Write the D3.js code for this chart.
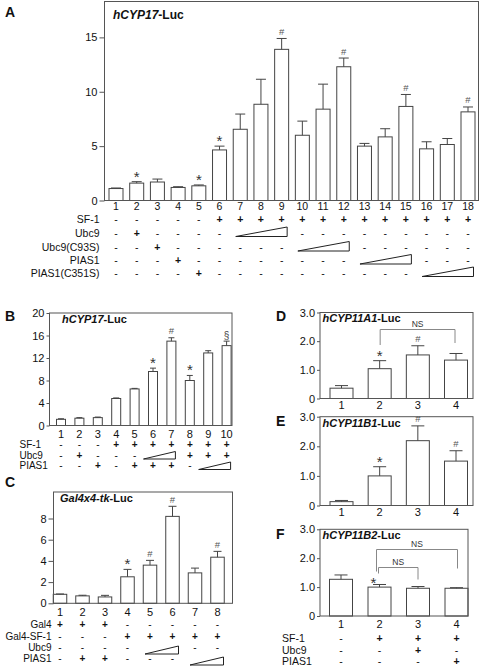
<!DOCTYPE html>
<html><head><meta charset="utf-8">
<script src="https://cdn.jsdelivr.net/npm/d3@7"></script>
<style>body{margin:0;background:#fff}</style>
</head><body><svg id="c" width="481" height="672"></svg>
<script>
// ---------- Panel A: hCYP17-Luc ----------
const aCats  = ["1","2","3","4","5","6","7","8","9","10","11","12","13","14","15","16","17","18"];
const aMeans = [1.1,1.6,1.7,1.2,1.35,4.65,6.55,8.85,13.9,6.0,8.4,12.3,5.0,5.85,8.65,4.75,5.15,8.15];
const aErrs  = [0.05,0.13,0.27,0.07,0.08,0.35,1.4,2.3,1.0,1.3,2.3,0.8,0.25,0.75,1.1,0.65,0.55,0.45];
const aMarks = ["","*","","","*","*","","","#","","","#","","","#","","","#"];
const aTicks = [0,5,10,15];
const aRowLabels = ["SF-1","Ubc9","Ubc9(C93S)","PIAS1","PIAS1(C351S)"];
const aRowSigns = [
  "- - - - - + + + + + + + + + + + + +",
  "- + - - - - w w w - - - - - - - - -",
  "- - + - - - - - - w w w - - - - - -",
  "- - - + - - - - - - - - w w w - - -",
  "- - - - + - - - - - - - - - - w w w"
];
// ---------- Panel B: hCYP17-Luc ----------
const bCats  = ["1","2","3","4","5","6","7","8","9","10"];
const bMeans = [1.1,1.3,1.4,4.8,6.5,9.6,15.0,8.0,12.9,14.2];
const bErrs  = [0.1,0.1,0.1,0.1,0.1,0.6,0.6,0.9,0.4,0.8];
const bMarks = ["","","","","","*","#","*","","§"];
const bTicks = [0,4,8,12,16,20];
const bRowLabels = ["SF-1","Ubc9","PIAS1"];
const bRowSigns = [
  "- - - + + + + + + +",
  "- + - - - w w + + +",
  "- - + - + + + - w w"
];
// ---------- Panel C: Gal4x4-tk-Luc ----------
const cCats  = ["1","2","3","4","5","6","7","8"];
const cMeans = [0.85,0.7,0.6,2.5,3.6,8.2,2.87,4.35];
const cErrs  = [0.03,0.06,0.15,0.7,0.45,0.95,0.45,0.55];
const cMarks = ["","","","*","#","#","","#"];
const cTicks = [0,2,4,6,8];
const cRowLabels = ["Gal4","Gal4-SF-1","Ubc9","PIAS1"];
const cRowSigns = [
  "+ + + - - - - -",
  "- - - + + + + +",
  "- - - - w w - -",
  "- + + - - - w w"
];
// ---------- Panels D, E, F ----------
const dCats  = ["1","2","3","4"];
const dMeans = [0.36,1.04,1.52,1.34];
const dErrs  = [0.09,0.28,0.32,0.23];
const dMarks = ["","*","#",""];
const dPairs = [["2","4","NS"]];
const eMeans = [0.13,1.0,2.19,1.5];
const eErrs  = [0.04,0.31,0.5,0.35];
const eMarks = ["","*","#","#"];
const fMeans = [1.27,1.0,0.96,0.96];
const fErrs  = [0.15,0.09,0.06,0.02];
const fMarks = ["","*","",""];
const fPairs = [["2","4","NS"],["2","3","NS"]];
const defTicks = [0,1,2,3];
const fRowLabels = ["SF-1","Ubc9","PIAS1"];
const fRowSigns = [
  "- + + +",
  "- - + -",
  "- - - +"
];

const FONT = '"Liberation Sans", Arial, Helvetica, sans-serif';
const svg = d3.select("#c").attr("font-family", FONT);

function drawPanel(c) {
  const g = svg.append("g");
  const x = d3.scalePoint().domain(c.cats).range([c.xFirst, c.xLast]);
  const y = d3.scaleLinear().domain([0, c.yMax]).range([c.y0, c.yTop]);

  // bars
  g.selectAll("rect.bar").data(c.means).join("rect").attr("class","bar")
    .attr("x", (d,i) => x(c.cats[i]) - c.barW/2)
    .attr("y", d => y(d))
    .attr("width", c.barW)
    .attr("height", d => c.y0 - y(d))
    .attr("fill", "#fff").attr("stroke", "#444").attr("stroke-width", 1);
  // error bars (upper only)
  const eg = g.append("g").attr("stroke", "#444").attr("stroke-width", 1);
  c.means.forEach((m, i) => {
    const cx = x(c.cats[i]);
    eg.append("line").attr("x1", cx).attr("x2", cx).attr("y1", y(m)).attr("y2", y(m + c.errs[i]));
    eg.append("line").attr("x1", cx - c.capW/2).attr("x2", cx + c.capW/2)
      .attr("y1", y(m + c.errs[i])).attr("y2", y(m + c.errs[i]));
  });
  // frame
  g.append("rect").attr("x", c.left).attr("y", y(c.yMax))
    .attr("width", c.right - c.left).attr("height", c.y0 - y(c.yMax))
    .attr("fill", "none").attr("stroke", "#555").attr("stroke-width", 1);
  // y axis
  const ya = d3.axisLeft(y).tickValues(c.yTicks).tickSize(c.tick).tickPadding(2)
    .tickFormat(c.fmt || (d => d));
  const ga = g.append("g").attr("transform", `translate(${c.left},0)`).call(ya);
  ga.select(".domain").remove();
  ga.attr("font-family", FONT).attr("font-size", c.tickFont);
  ga.selectAll("line").attr("stroke", "#555");
  ga.selectAll("text").attr("fill", "#111");
  // category numbers
  g.selectAll("text.num").data(c.cats).join("text").attr("class","num")
    .attr("x", d => x(d)).attr("y", c.numY).attr("dy", "0.35em")
    .attr("text-anchor", "middle").attr("font-size", c.font).attr("fill", "#111").text(d => d);
  // significance marks
  c.marks.forEach((mk, i) => {
    if (!mk) return;
    const top = y(c.means[i] + c.errs[i]);
    const t = g.append("text").attr("text-anchor", "middle").attr("x", x(c.cats[i]) + (c.markDx || 0)).text(mk);
    if (mk === "*") t.attr("y", top + (c.starDy || 0)).attr("font-size", 15).attr("fill", "#333");
    else if (mk === "#") t.attr("y", top - 3.5).attr("font-size", 9.5).attr("fill", "#555");
    else t.attr("y", top - 2).attr("font-size", 10).attr("fill", "#444");
  });
  // title
  const tt = g.append("text").attr("x", c.titleX).attr("y", c.titleY).attr("dy", "0.35em")
    .attr("font-size", c.titleFont).attr("font-weight", "bold").attr("fill", "#111");
  tt.append("tspan").attr("font-style", "italic").text(c.titleIt);
  tt.append("tspan").text(c.titleRest);
  // panel letter
  g.append("text").attr("x", c.letterX).attr("y", c.letterY).attr("font-size", 14)
    .attr("font-weight", "bold").attr("fill", "#111").text(c.letter);
  // brackets
  (c.pairs || []).forEach((p, k) => {
    const b = c.brackets[k];
    const x1 = x(p[0]) + b.dx1, x2 = x(p[1]) + b.dx2;
    g.append("path").attr("d", `M${x1},${b.l}V${b.y}H${x2}V${b.r}`)
      .attr("fill", "none").attr("stroke", "#888").attr("stroke-width", 1);
    g.append("text").attr("x", (x1 + x2)/2).attr("y", b.y - 2.5).attr("text-anchor", "middle")
      .attr("font-size", 8.5).attr("fill", "#333").text(p[2]);
  });
  // treatment table
  if (c.rowLabels) {
    c.rowLabels.forEach((lab, r) => {
      const ry = c.rowY[r];
      g.append("text").attr("x", c.rowLabelX).attr("y", ry).attr("dy", "0.35em")
        .attr("text-anchor", c.rowAnchor).attr("font-size", c.rowFont).attr("fill", "#111").text(lab);
      const signs = c.rowSigns[r].split(" ");
      let wStart = -1;
      signs.forEach((s, i) => {
        if (s === "w") {
          if (wStart < 0) wStart = i;
          if (i === signs.length - 1 || signs[i+1] !== "w") {
            const x0 = x(c.cats[wStart]) - c.wedge.l, x1 = x(c.cats[i]) + c.wedge.r;
            g.append("path").attr("d", `M${x0},${ry + c.wedge.b}H${x1}V${ry + c.wedge.t}Z`)
              .attr("fill", "#fff").attr("stroke", "#222").attr("stroke-width", 1);
            wStart = -1;
          }
          return;
        }
        g.append("text").attr("x", x(c.cats[i])).attr("y", ry).attr("dy", "0.35em")
          .attr("text-anchor", "middle").attr("font-size", c.rowFont)
          .attr("font-weight", s === "+" ? "bold" : "normal").attr("fill", "#111").text(s);
      });
    });
  }
}

const fmt1 = d => d === 0 ? "0" : d3.format(".1f")(d);

drawPanel({cats: aCats, means: aMeans, errs: aErrs, marks: aMarks, yTicks: aTicks,
  left: 104.5, right: 478.5, y0: 200.5, yTop: 1.5, yMax: 18.3, xFirst: 116, xLast: 468,
  barW: 14, capW: 10, tick: 5, tickFont: 11, font: 10.5, rowFont: 10.5, numY: 206.5,
  titleX: 113, titleY: 15, titleFont: 12, titleIt: "hCYP17", titleRest: "-Luc",
  letter: "A", letterX: 5, letterY: 17,
  rowLabels: aRowLabels, rowSigns: aRowSigns, rowY: [219, 233, 247.5, 260.5, 273],
  rowLabelX: 99.5, rowAnchor: "end", wedge: {l: 4.5, r: 5.5, b: 3.5, t: -6}});

drawPanel({cats: bCats, means: bMeans, errs: bErrs, marks: bMarks, yTicks: bTicks,
  left: 49.5, right: 232, y0: 425.5, yTop: 313, yMax: 20, xFirst: 61, xLast: 226.6,
  barW: 9, capW: 6, tick: 3, tickFont: 11, font: 11, rowFont: 10, numY: 434,
  titleX: 62, titleY: 319, titleFont: 11, titleIt: "hCYP17", titleRest: "-Luc",
  letter: "B", letterX: 5, letterY: 321,
  rowLabels: bRowLabels, rowSigns: bRowSigns, rowY: [444.5, 455, 465.5],
  rowLabelX: 19.5, rowAnchor: "start", wedge: {l: 9.5, r: 4, b: 4, t: -3.5}});

drawPanel({cats: cCats, means: cMeans, errs: cErrs, marks: cMarks, yTicks: cTicks,
  left: 53.5, right: 232.5, y0: 603.3, yTop: 492, yMax: 10.5, xFirst: 60, xLast: 217.5,
  barW: 13.5, capW: 8, tick: 5, tickFont: 11, font: 11, rowFont: 10, numY: 612,
  titleX: 60, titleY: 498, titleFont: 11, titleIt: "Gal4x4-tk", titleRest: "-Luc",
  letter: "C", letterX: 5, letterY: 487,
  rowLabels: cRowLabels, rowSigns: cRowSigns, rowY: [624.5, 636, 647, 658],
  rowLabelX: 51.5, rowAnchor: "end", wedge: {l: 5, r: 6, b: 7, t: -1}});

drawPanel({cats: dCats, means: dMeans, errs: dErrs, marks: dMarks, yTicks: defTicks, fmt: fmt1,
  left: 320, right: 473, y0: 398.5, yTop: 312.5, yMax: 3, xFirst: 341.5, xLast: 456,
  barW: 23, capW: 13, tick: 3, tickFont: 11, font: 11, numY: 405.5,
  titleX: 322.5, titleY: 318.5, titleFont: 11, titleIt: "hCYP11A1", titleRest: "-Luc",
  letter: "D", letterX: 276, letterY: 321,
  pairs: dPairs, brackets: [{y: 329.5, l: 345, r: 343, dx1: 0.5, dx2: -1}]});

drawPanel({cats: dCats, means: eMeans, errs: eErrs, marks: eMarks, yTicks: defTicks, fmt: fmt1,
  left: 320, right: 473, y0: 505.5, yTop: 416.7, yMax: 3, xFirst: 341.5, xLast: 456,
  barW: 23, capW: 13, tick: 3, tickFont: 11, font: 11, numY: 512.5,
  titleX: 322.5, titleY: 423, titleFont: 11, titleIt: "hCYP11B1", titleRest: "-Luc",
  letter: "E", letterX: 276, letterY: 426});

drawPanel({cats: dCats, means: fMeans, errs: fErrs, marks: fMarks, yTicks: defTicks, fmt: fmt1,
  left: 320, right: 468, y0: 616, yTop: 529.3, yMax: 3, xFirst: 341, xLast: 456.5,
  barW: 23, capW: 13, tick: 3, tickFont: 11, font: 11, rowFont: 10.5, numY: 624, markDx: -6, starDy: 4,
  titleX: 322.5, titleY: 535.5, titleFont: 11, titleIt: "hCYP11B2", titleRest: "-Luc",
  letter: "F", letterX: 276, letterY: 539,
  pairs: fPairs, brackets: [{y: 549.5, l: 571.5, r: 568.5, dx1: -3, dx2: 1}, {y: 567.5, l: 573.5, r: 579.5, dx1: -1, dx2: 0}],
  rowLabels: fRowLabels, rowSigns: fRowSigns, rowY: [638, 650, 661.5],
  rowLabelX: 282, rowAnchor: "start", wedge: {l: 5, r: 5, b: 4, t: -4}});
</script></body></html>
